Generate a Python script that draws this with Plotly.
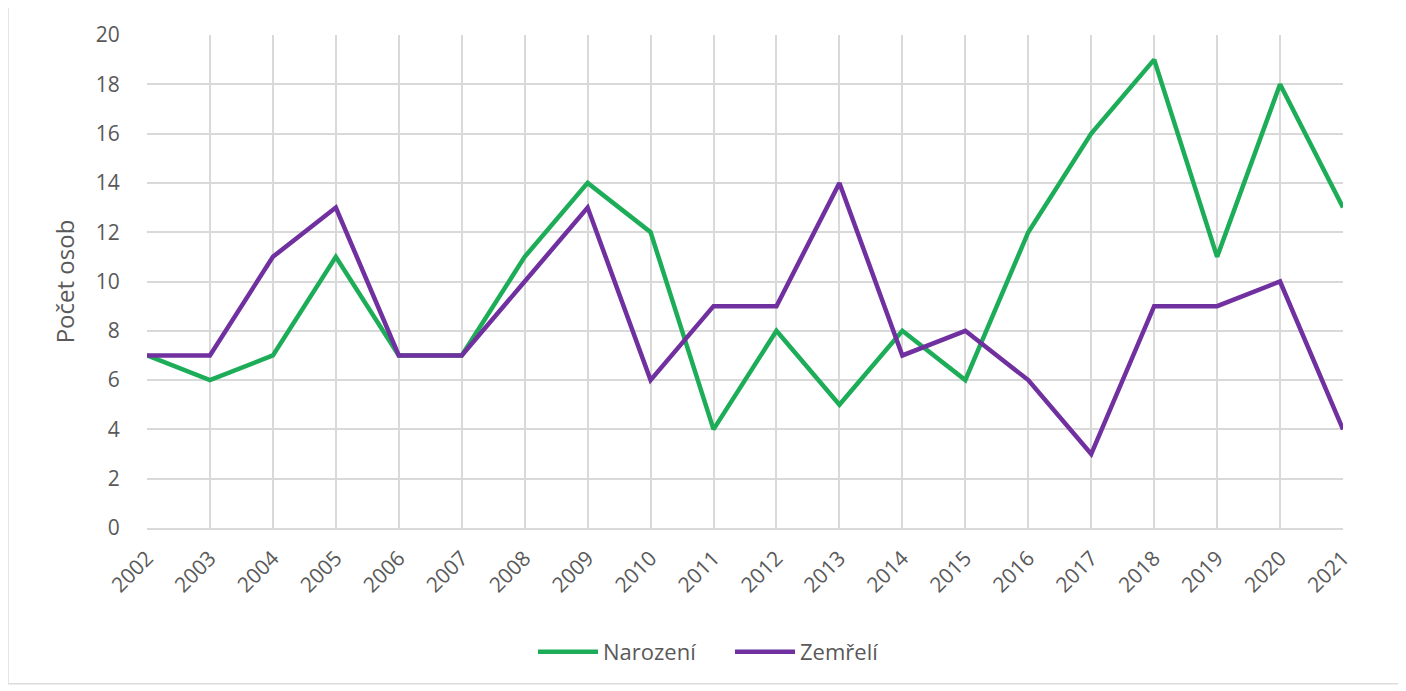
import plotly.graph_objects as go

years = [str(y) for y in range(2002, 2022)]
narozeni = [7, 6, 7, 11, 7, 7, 11, 14, 12, 4, 8, 5, 8, 6, 12, 16, 19, 11, 18, 13]
zemreli = [7, 7, 11, 13, 7, 7, 10, 13, 6, 9, 9, 14, 7, 8, 6, 3, 9, 9, 10, 4]

# page has an 8px body margin; figure coords = page coords - 8
OFF = 8
W, H = 1398, 683
L, T = 147 - OFF, 28 - OFF
R = W - (1343 - OFF)
B = H - (528 - OFF)
pw, ph = W - L - R, H - T - B

fig = go.Figure()
fig.add_trace(go.Scatter(x=years, y=narozeni, mode="lines", name="Narození",
                         line=dict(color="#1DAD58", width=4.5)))
fig.add_trace(go.Scatter(x=years, y=zemreli, mode="lines", name="Zemřelí",
                         line=dict(color="#7030A0", width=4.5)))

def px_x(p):
    return (p - OFF - L) / pw

def px_y(p):
    return (H - B - (p - OFF)) / ph

border = "#dcdcdc"
fig.add_shape(type="line", xref="paper", yref="paper",
              x0=px_x(8), x1=px_x(8), y0=px_y(0), y1=px_y(686),
              line=dict(color=border, width=1.5))
fig.add_shape(type="line", xref="paper", yref="paper",
              x0=px_x(8), x1=px_x(1402), y0=px_y(686), y1=px_y(686),
              line=dict(color=border, width=1.5))
fig.add_shape(type="line", xref="paper", yref="paper",
              x0=px_x(1402), x1=px_x(1402), y0=px_y(0), y1=px_y(686),
              line=dict(color="#f0f0f0", width=1.5))

fig.update_layout(
    width=W, height=H,
    margin=dict(l=L, r=R, t=T, b=B),
    plot_bgcolor="white", paper_bgcolor="white",
    font=dict(family="Open Sans", color="#595959", size=21),
    showlegend=True,
    legend=dict(orientation="h", xref="container", yref="container",
                x=(730 - OFF) / W, y=1 - (652 - OFF) / H,
                xanchor="center", yanchor="middle",
                font=dict(size=22, color="#595959"), itemwidth=60,
                entrywidth=122, entrywidthmode="pixels"),
    xaxis=dict(type="category", range=[0, 19], tickangle=-45,
               showgrid=True, gridcolor="#d9d9d9", gridwidth=1.5,
               showline=True, linecolor="#d9d9d9", linewidth=1.5,
               tickfont=dict(size=21, color="#595959"),
               ticks="outside", ticklen=8, tickcolor="rgba(0,0,0,0)"),
    yaxis=dict(range=[0, 20], dtick=2, showgrid=True, gridcolor="#d9d9d9",
               gridwidth=1.5, zeroline=False,
               ticks="outside", ticklen=22, tickcolor="rgba(0,0,0,0)",
               tickfont=dict(size=21, color="#595959"),
               title=dict(text="Počet osob", font=dict(size=24, color="#595959"),
                          standoff=14)),
)

fig.write_html("out.html")
